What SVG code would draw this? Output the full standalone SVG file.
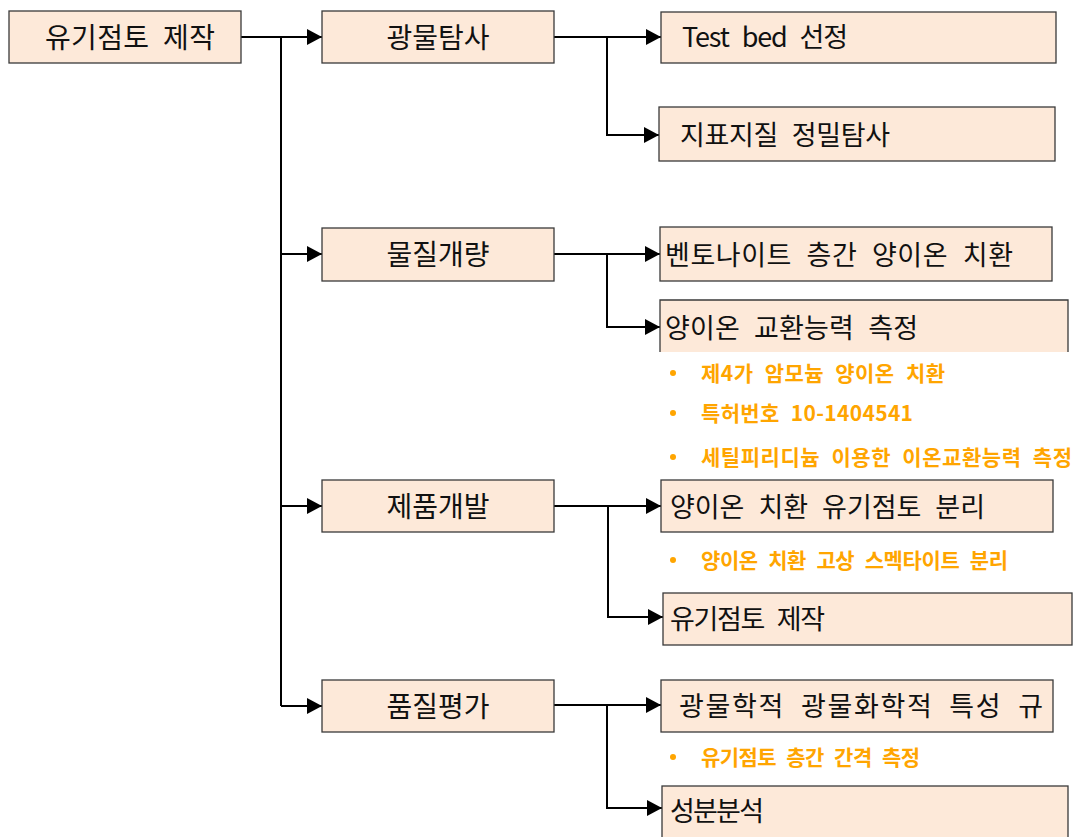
<svg xmlns="http://www.w3.org/2000/svg" width="1079" height="837" viewBox="0 0 1079 837">
<style>
.box{fill:#FDE9D9;stroke:#3a3a3a;stroke-width:1.3}
.t{font-family:"Noto Sans CJK KR","Noto Sans",sans-serif;font-size:27px;fill:#111;word-spacing:8px}
.t2{font-family:"Noto Sans CJK KR","Noto Sans",sans-serif;font-size:28px;fill:#111;word-spacing:7px}
.o{font-family:"Noto Sans CJK KR","Noto Sans",sans-serif;font-size:21px;font-weight:bold;fill:#FFA500;word-spacing:6px}
.dot{fill:#FFA500}
.c{fill:none;stroke:#000;stroke-width:2}
.a{marker-end:url(#arr)}
</style>
<defs>
<marker id="arr" markerUnits="userSpaceOnUse" markerWidth="15" markerHeight="16" refX="15" refY="8" orient="auto">
<path d="M0,0 L15,8 L0,16 z" fill="#000"/>
</marker>
</defs>
<rect width="1079" height="837" fill="#fff"/>

<g id="connectors">
<path class="c" d="M241,37 H281 V706"/>
<path class="c a" d="M281,37 H322"/>
<path class="c a" d="M281,254 H322"/>
<path class="c a" d="M281,506 H322"/>
<path class="c a" d="M281,706 H322"/>

<path class="c a" d="M554,37 H661"/>
<path class="c a" d="M607,37 V135 H659"/>

<path class="c a" d="M554,254 H660"/>
<path class="c a" d="M607,254 V327 H660"/>

<path class="c a" d="M554,506 H661"/>
<path class="c a" d="M608,506 V617 H663"/>

<path class="c a" d="M554,705 H661"/>
<path class="c a" d="M607,705 V808 H662"/>
</g>

<g id="root">
<rect class="box" x="9" y="11" width="232" height="52"/>
<text class="t2" x="45" y="48" textLength="170" lengthAdjust="spacing">유기점토 제작</text>
</g>

<g id="n-gwangmul">
<rect class="box" x="322" y="11" width="232" height="52"/>
<text class="t2" x="438" y="48" text-anchor="middle">광물탐사</text>
</g>
<g id="n-muljil">
<rect class="box" x="322" y="228" width="232" height="53"/>
<text class="t2" x="438" y="265" text-anchor="middle">물질개량</text>
</g>
<g id="n-jepum">
<rect class="box" x="322" y="480" width="232" height="52"/>
<text class="t2" x="438" y="517" text-anchor="middle">제품개발</text>
</g>
<g id="n-pumjil">
<rect class="box" x="322" y="680" width="232" height="52"/>
<text class="t2" x="438" y="717" text-anchor="middle">품질평가</text>
</g>

<g id="n-testbed">
<rect class="box" x="661" y="12" width="395" height="51"/>
<text class="t" x="682" y="47" textLength="166" lengthAdjust="spacing">Test bed 선정</text>
</g>
<g id="n-jipyo">
<rect class="box" x="659" y="107" width="396" height="54"/>
<text class="t" x="680" y="145" textLength="210" lengthAdjust="spacing">지표지질 정밀탐사</text>
</g>
<g id="n-bento">
<rect class="box" x="660" y="227" width="392" height="54"/>
<text class="t" x="665" y="265" textLength="348" lengthAdjust="spacing">벤토나이트 층간 양이온 치환</text>
</g>
<g id="n-cec">
<rect x="660" y="300" width="408" height="52" fill="#FDE9D9"/>
<path d="M660,352 V300 H1068 V352" fill="none" stroke="#3a3a3a" stroke-width="1.3"/>
<text class="t" x="665" y="338" textLength="253" lengthAdjust="spacing">양이온 교환능력 측정</text>
</g>
<g id="notes-cec">
<circle class="dot" cx="673" cy="373" r="3"/>
<text class="o" x="701" y="381" textLength="244" lengthAdjust="spacing">제4가 암모늄 양이온 치환</text>
<circle class="dot" cx="673" cy="413" r="3"/>
<text class="o" x="701" y="421" textLength="212" lengthAdjust="spacing">특허번호 10-1404541</text>
<circle class="dot" cx="673" cy="457" r="3"/>
<text class="o" x="701" y="465" textLength="371" lengthAdjust="spacing">세틸피리디늄 이용한 이온교환능력 측정</text>
</g>
<g id="n-separation">
<rect class="box" x="661" y="480" width="392" height="52"/>
<text class="t" x="670" y="517" textLength="315" lengthAdjust="spacing">양이온 치환 유기점토 분리</text>
</g>
<g id="notes-separation">
<circle class="dot" cx="673" cy="560" r="3"/>
<text class="o" x="701" y="568" textLength="307" lengthAdjust="spacing">양이온 치환 고상 스멕타이트 분리</text>
</g>
<g id="n-make">
<rect class="box" x="663" y="593" width="409" height="52"/>
<text class="t" x="670" y="629" textLength="155" lengthAdjust="spacing">유기점토 제작</text>
</g>
<g id="n-mineral">
<rect class="box" x="661" y="680" width="392" height="52"/>
<text class="t" x="679" y="716" textLength="364" lengthAdjust="spacing">광물학적 광물화학적 특성 규</text>
</g>
<g id="notes-mineral">
<circle class="dot" cx="673" cy="757" r="3"/>
<text class="o" x="701" y="765" textLength="219" lengthAdjust="spacing">유기점토 층간 간격 측정</text>
</g>
<g id="n-component">
<rect class="box" x="662" y="786" width="406" height="60"/>
<text class="t" x="670" y="821" textLength="94" lengthAdjust="spacing">성분분석</text>
</g>
</svg>
